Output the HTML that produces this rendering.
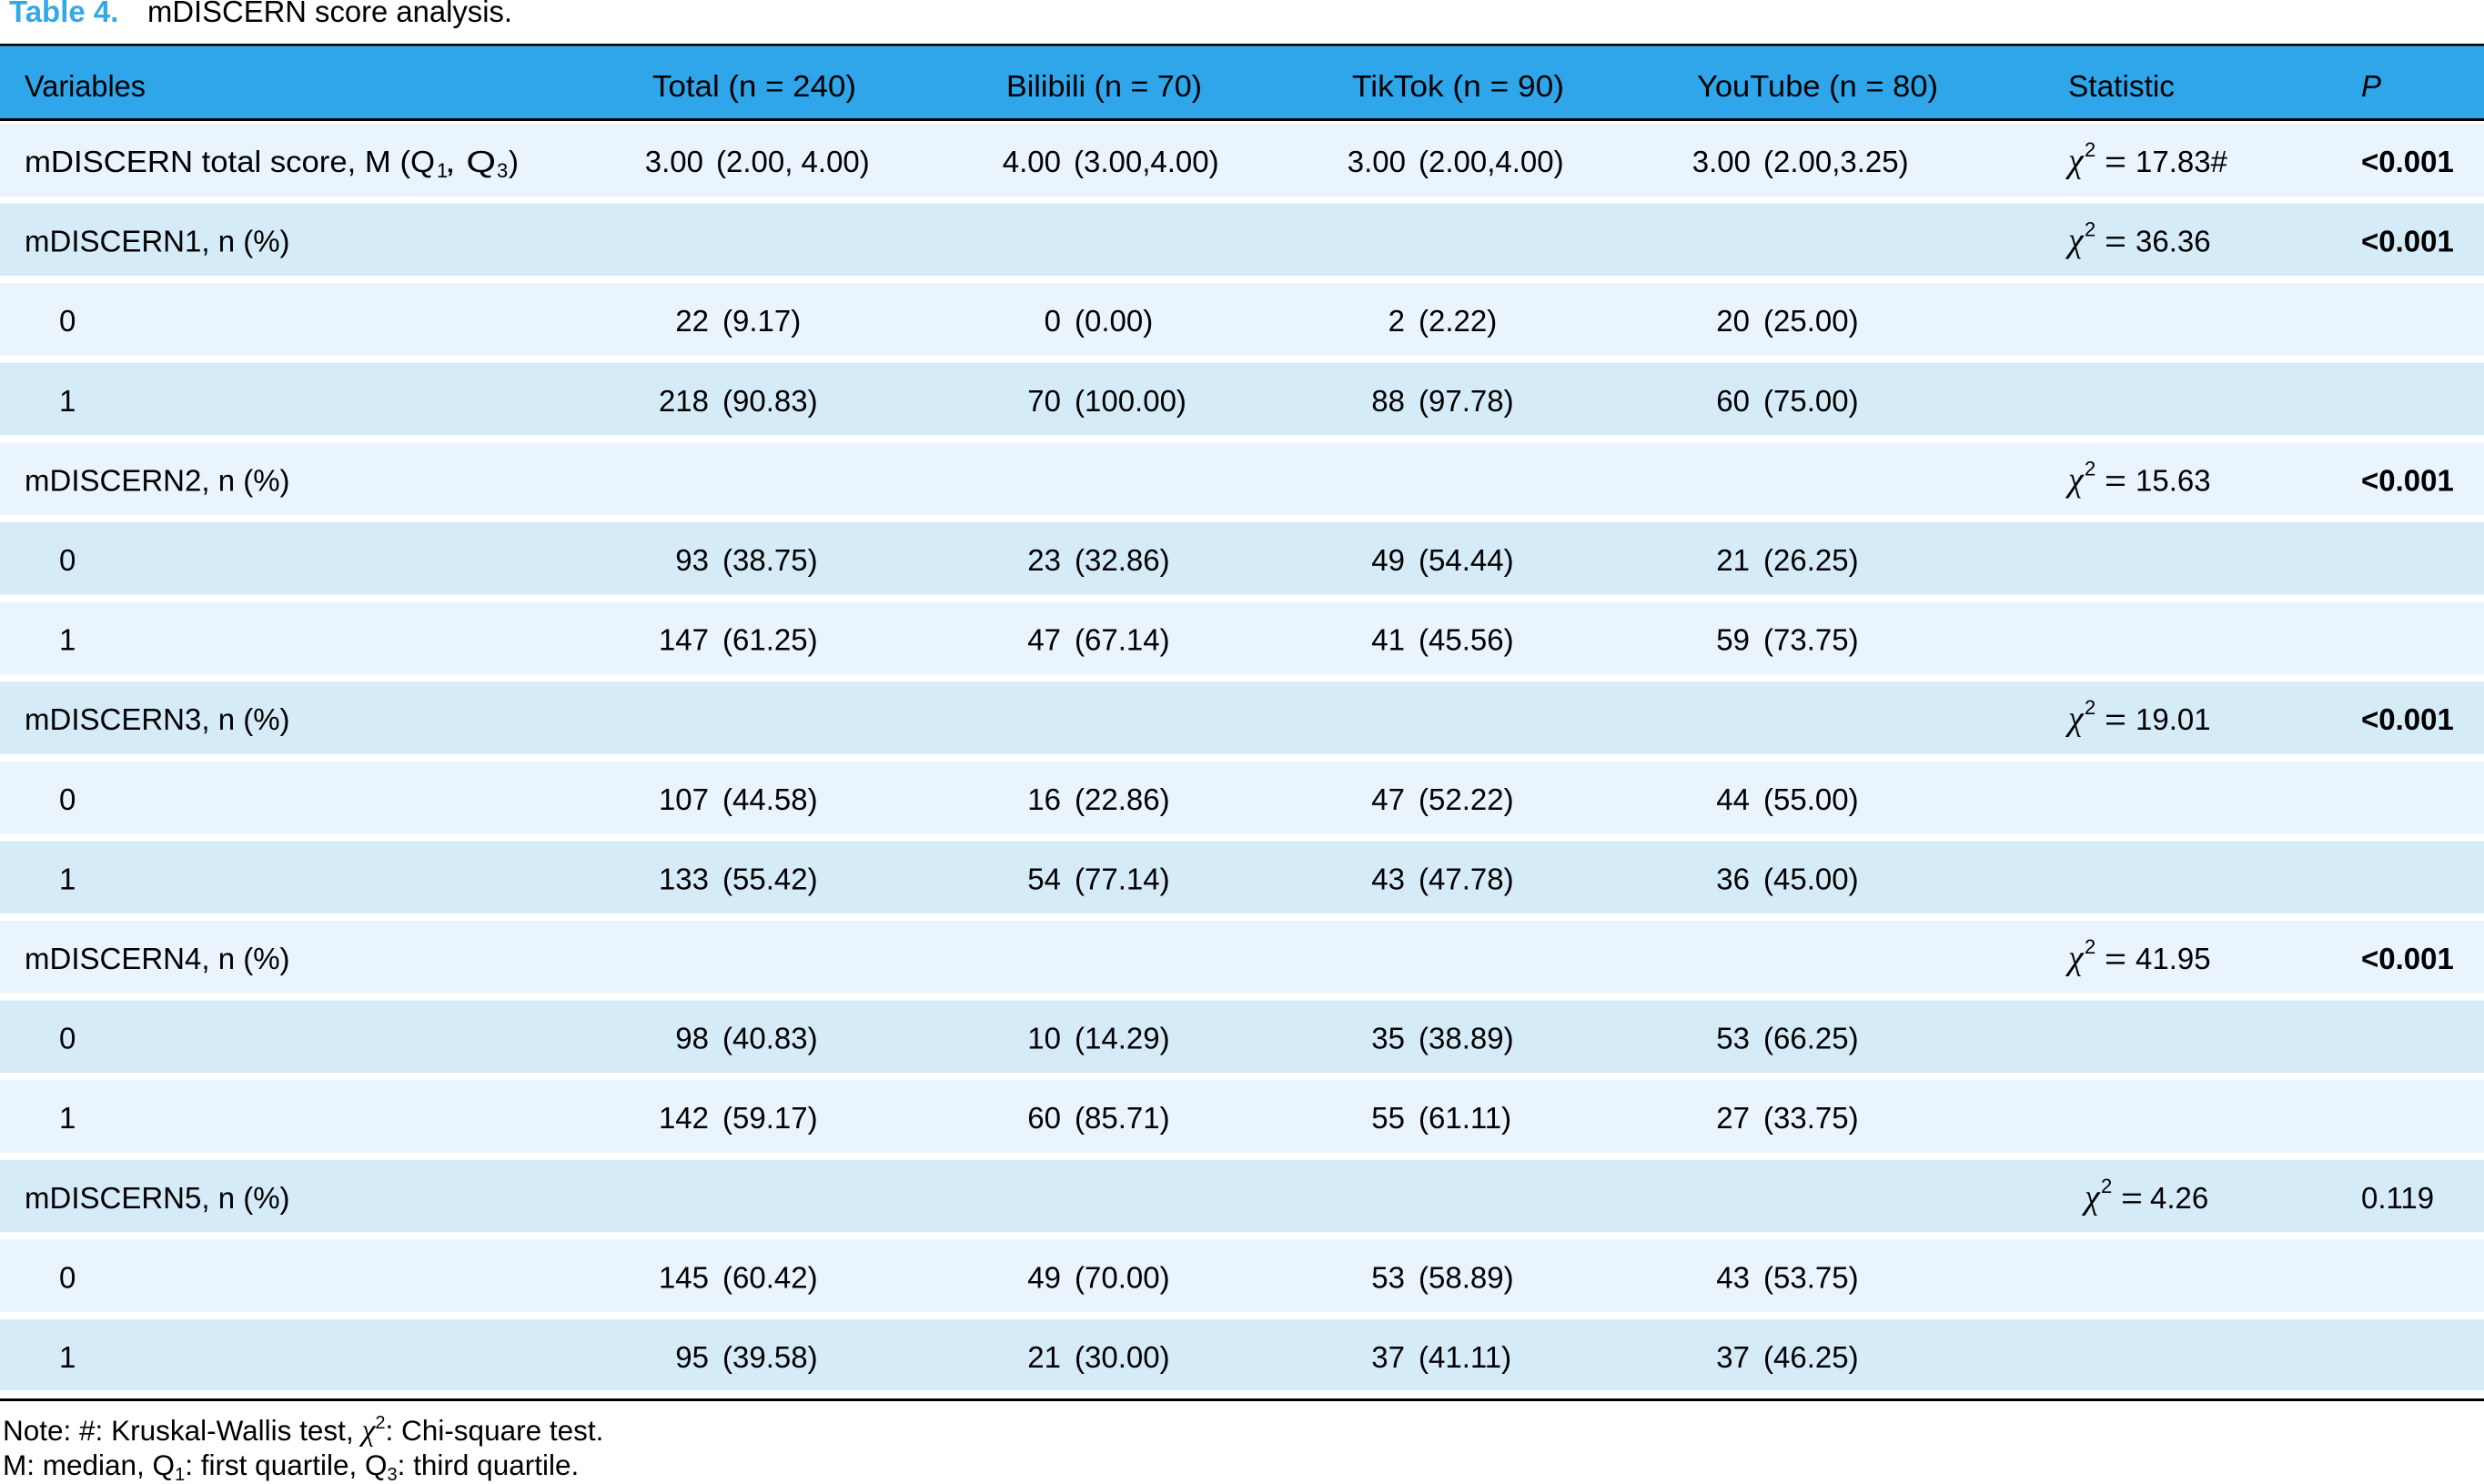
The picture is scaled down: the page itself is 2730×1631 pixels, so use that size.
<!DOCTYPE html>
<html>
<head>
<meta charset="utf-8">
<style>
html,body{margin:0;padding:0;background:#fff;}
svg{display:block;}
text{font-family:"Liberation Sans", sans-serif;fill:#000;}
.t{font-size:33px;}
.b{font-weight:bold;}
.chi{font-family:"Liberation Serif", serif;font-style:italic;font-size:38px;}
.sup{font-size:22px;}
.n{font-size:31.5px;}
</style>
</head>
<body>
<svg width="2730" height="1631" viewBox="0 0 2730 1631" xmlns="http://www.w3.org/2000/svg">
<rect x="0" y="0" width="2730" height="1631" fill="#ffffff"/>

<!-- Title -->
<text x="10" y="24" class="t b" style="fill:#35a8e6">Table 4.</text>
<text x="162" y="24" class="t" textLength="401" lengthAdjust="spacingAndGlyphs">mDISCERN score analysis.</text>

<!-- Header -->
<rect x="0" y="48" width="2730" height="2.5" fill="#000"/>
<rect x="0" y="50.5" width="2730" height="80" fill="#2ea6e9"/>
<rect x="0" y="130" width="2730" height="3" fill="#000"/>
<text x="27" y="106" class="t" textLength="133" lengthAdjust="spacingAndGlyphs">Variables</text>
<text x="717" y="106" class="t" textLength="224" lengthAdjust="spacingAndGlyphs">Total (n = 240)</text>
<text x="1106" y="106" class="t" textLength="215" lengthAdjust="spacingAndGlyphs">Bilibili (n = 70)</text>
<text x="1486" y="106" class="t" textLength="233" lengthAdjust="spacingAndGlyphs">TikTok (n = 90)</text>
<text x="1865" y="106" class="t" textLength="265" lengthAdjust="spacingAndGlyphs">YouTube (n = 80)</text>
<text x="2273" y="106" class="t" textLength="117" lengthAdjust="spacingAndGlyphs">Statistic</text>
<text x="2595" y="106" class="t" style="font-style:italic">P</text>

<!-- Row backgrounds -->
<rect x="0" y="136" width="2730" height="80" fill="#e9f4fd"/>
<rect x="0" y="223.6" width="2730" height="79.5" fill="#d6ebf8"/>
<rect x="0" y="311.2" width="2730" height="79.5" fill="#e9f4fd"/>
<rect x="0" y="398.8" width="2730" height="79.5" fill="#d6ebf8"/>
<rect x="0" y="486.4" width="2730" height="79.5" fill="#e9f4fd"/>
<rect x="0" y="574" width="2730" height="79.5" fill="#d6ebf8"/>
<rect x="0" y="661.6" width="2730" height="79.5" fill="#e9f4fd"/>
<rect x="0" y="749.2" width="2730" height="79.5" fill="#d6ebf8"/>
<rect x="0" y="836.8" width="2730" height="79.5" fill="#e9f4fd"/>
<rect x="0" y="924.4" width="2730" height="79.5" fill="#d6ebf8"/>
<rect x="0" y="1012" width="2730" height="79.5" fill="#e9f4fd"/>
<rect x="0" y="1099.6" width="2730" height="79.5" fill="#d6ebf8"/>
<rect x="0" y="1187.2" width="2730" height="79.5" fill="#e9f4fd"/>
<rect x="0" y="1274.8" width="2730" height="79.5" fill="#d6ebf8"/>
<rect x="0" y="1362.4" width="2730" height="79.5" fill="#e9f4fd"/>
<rect x="0" y="1450" width="2730" height="78" fill="#d6ebf8"/>

<!-- Bottom rule -->
<rect x="0" y="1537" width="2730" height="3" fill="#000"/>

<!-- Row 0 -->
<text x="27" y="189" class="t" textLength="451" lengthAdjust="spacingAndGlyphs">mDISCERN total score, M (Q</text>
<text x="480" y="195" class="sup">1</text>
<text x="489" y="189" class="t" textLength="56" lengthAdjust="spacingAndGlyphs">, Q</text>
<text x="546" y="195" class="sup">3</text>
<text x="559" y="189" class="t">)</text>
<text x="773" y="189" class="t" text-anchor="end">3.00</text><text x="787" y="189" class="t">(2.00, 4.00)</text>
<text x="1166" y="189" class="t" text-anchor="end">4.00</text><text x="1180" y="189" class="t">(3.00,4.00)</text>
<text x="1545" y="189" class="t" text-anchor="end">3.00</text><text x="1559" y="189" class="t">(2.00,4.00)</text>
<text x="1924" y="189" class="t" text-anchor="end">3.00</text><text x="1938" y="189" class="t">(2.00,3.25)</text>
<text x="2273" y="189" class="chi">χ</text><text x="2291" y="172" class="sup">2</text><text x="2313" y="189" class="t" textLength="24" lengthAdjust="spacingAndGlyphs">=</text><text x="2347" y="189" class="t">17.83#</text>
<text x="2595" y="189" class="t b">&lt;0.001</text>

<!-- Row 1 -->
<text x="27" y="276.6" class="t">mDISCERN1, n (%)</text>
<text x="2273" y="276.6" class="chi">χ</text><text x="2291" y="259.6" class="sup">2</text><text x="2313" y="276.6" class="t" textLength="24" lengthAdjust="spacingAndGlyphs">=</text><text x="2347" y="276.6" class="t">36.36</text>
<text x="2595" y="276.6" class="t b">&lt;0.001</text>

<!-- Row 2 -->
<text x="65" y="364.2" class="t">0</text>
<text x="779" y="364.2" class="t" text-anchor="end">22</text><text x="794" y="364.2" class="t">(9.17)</text>
<text x="1166" y="364.2" class="t" text-anchor="end">0</text><text x="1181" y="364.2" class="t">(0.00)</text>
<text x="1544" y="364.2" class="t" text-anchor="end">2</text><text x="1559" y="364.2" class="t">(2.22)</text>
<text x="1923" y="364.2" class="t" text-anchor="end">20</text><text x="1938" y="364.2" class="t">(25.00)</text>

<!-- Row 3 -->
<text x="65" y="451.8" class="t">1</text>
<text x="779" y="451.8" class="t" text-anchor="end">218</text><text x="794" y="451.8" class="t">(90.83)</text>
<text x="1166" y="451.8" class="t" text-anchor="end">70</text><text x="1181" y="451.8" class="t">(100.00)</text>
<text x="1544" y="451.8" class="t" text-anchor="end">88</text><text x="1559" y="451.8" class="t">(97.78)</text>
<text x="1923" y="451.8" class="t" text-anchor="end">60</text><text x="1938" y="451.8" class="t">(75.00)</text>

<!-- Row 4 -->
<text x="27" y="539.4" class="t">mDISCERN2, n (%)</text>
<text x="2273" y="539.4" class="chi">χ</text><text x="2291" y="522.4" class="sup">2</text><text x="2313" y="539.4" class="t" textLength="24" lengthAdjust="spacingAndGlyphs">=</text><text x="2347" y="539.4" class="t">15.63</text>
<text x="2595" y="539.4" class="t b">&lt;0.001</text>

<!-- Row 5 -->
<text x="65" y="627" class="t">0</text>
<text x="779" y="627" class="t" text-anchor="end">93</text><text x="794" y="627" class="t">(38.75)</text>
<text x="1166" y="627" class="t" text-anchor="end">23</text><text x="1181" y="627" class="t">(32.86)</text>
<text x="1544" y="627" class="t" text-anchor="end">49</text><text x="1559" y="627" class="t">(54.44)</text>
<text x="1923" y="627" class="t" text-anchor="end">21</text><text x="1938" y="627" class="t">(26.25)</text>

<!-- Row 6 -->
<text x="65" y="714.6" class="t">1</text>
<text x="779" y="714.6" class="t" text-anchor="end">147</text><text x="794" y="714.6" class="t">(61.25)</text>
<text x="1166" y="714.6" class="t" text-anchor="end">47</text><text x="1181" y="714.6" class="t">(67.14)</text>
<text x="1544" y="714.6" class="t" text-anchor="end">41</text><text x="1559" y="714.6" class="t">(45.56)</text>
<text x="1923" y="714.6" class="t" text-anchor="end">59</text><text x="1938" y="714.6" class="t">(73.75)</text>

<!-- Row 7 -->
<text x="27" y="802.2" class="t">mDISCERN3, n (%)</text>
<text x="2273" y="802.2" class="chi">χ</text><text x="2291" y="785.2" class="sup">2</text><text x="2313" y="802.2" class="t" textLength="24" lengthAdjust="spacingAndGlyphs">=</text><text x="2347" y="802.2" class="t">19.01</text>
<text x="2595" y="802.2" class="t b">&lt;0.001</text>

<!-- Row 8 -->
<text x="65" y="889.8" class="t">0</text>
<text x="779" y="889.8" class="t" text-anchor="end">107</text><text x="794" y="889.8" class="t">(44.58)</text>
<text x="1166" y="889.8" class="t" text-anchor="end">16</text><text x="1181" y="889.8" class="t">(22.86)</text>
<text x="1544" y="889.8" class="t" text-anchor="end">47</text><text x="1559" y="889.8" class="t">(52.22)</text>
<text x="1923" y="889.8" class="t" text-anchor="end">44</text><text x="1938" y="889.8" class="t">(55.00)</text>

<!-- Row 9 -->
<text x="65" y="977.4" class="t">1</text>
<text x="779" y="977.4" class="t" text-anchor="end">133</text><text x="794" y="977.4" class="t">(55.42)</text>
<text x="1166" y="977.4" class="t" text-anchor="end">54</text><text x="1181" y="977.4" class="t">(77.14)</text>
<text x="1544" y="977.4" class="t" text-anchor="end">43</text><text x="1559" y="977.4" class="t">(47.78)</text>
<text x="1923" y="977.4" class="t" text-anchor="end">36</text><text x="1938" y="977.4" class="t">(45.00)</text>

<!-- Row 10 -->
<text x="27" y="1065" class="t">mDISCERN4, n (%)</text>
<text x="2273" y="1065" class="chi">χ</text><text x="2291" y="1048" class="sup">2</text><text x="2313" y="1065" class="t" textLength="24" lengthAdjust="spacingAndGlyphs">=</text><text x="2347" y="1065" class="t">41.95</text>
<text x="2595" y="1065" class="t b">&lt;0.001</text>

<!-- Row 11 -->
<text x="65" y="1152.6" class="t">0</text>
<text x="779" y="1152.6" class="t" text-anchor="end">98</text><text x="794" y="1152.6" class="t">(40.83)</text>
<text x="1166" y="1152.6" class="t" text-anchor="end">10</text><text x="1181" y="1152.6" class="t">(14.29)</text>
<text x="1544" y="1152.6" class="t" text-anchor="end">35</text><text x="1559" y="1152.6" class="t">(38.89)</text>
<text x="1923" y="1152.6" class="t" text-anchor="end">53</text><text x="1938" y="1152.6" class="t">(66.25)</text>

<!-- Row 12 -->
<text x="65" y="1240.2" class="t">1</text>
<text x="779" y="1240.2" class="t" text-anchor="end">142</text><text x="794" y="1240.2" class="t">(59.17)</text>
<text x="1166" y="1240.2" class="t" text-anchor="end">60</text><text x="1181" y="1240.2" class="t">(85.71)</text>
<text x="1544" y="1240.2" class="t" text-anchor="end">55</text><text x="1559" y="1240.2" class="t">(61.11)</text>
<text x="1923" y="1240.2" class="t" text-anchor="end">27</text><text x="1938" y="1240.2" class="t">(33.75)</text>

<!-- Row 13 -->
<text x="27" y="1327.8" class="t">mDISCERN5, n (%)</text>
<text x="2291" y="1327.8" class="chi">χ</text><text x="2309" y="1310.8" class="sup">2</text><text x="2331" y="1327.8" class="t" textLength="24" lengthAdjust="spacingAndGlyphs">=</text><text x="2363" y="1327.8" class="t">4.26</text>
<text x="2595" y="1327.8" class="t">0.119</text>

<!-- Row 14 -->
<text x="65" y="1415.4" class="t">0</text>
<text x="779" y="1415.4" class="t" text-anchor="end">145</text><text x="794" y="1415.4" class="t">(60.42)</text>
<text x="1166" y="1415.4" class="t" text-anchor="end">49</text><text x="1181" y="1415.4" class="t">(70.00)</text>
<text x="1544" y="1415.4" class="t" text-anchor="end">53</text><text x="1559" y="1415.4" class="t">(58.89)</text>
<text x="1923" y="1415.4" class="t" text-anchor="end">43</text><text x="1938" y="1415.4" class="t">(53.75)</text>

<!-- Row 15 -->
<text x="65" y="1503" class="t">1</text>
<text x="779" y="1503" class="t" text-anchor="end">95</text><text x="794" y="1503" class="t">(39.58)</text>
<text x="1166" y="1503" class="t" text-anchor="end">21</text><text x="1181" y="1503" class="t">(30.00)</text>
<text x="1544" y="1503" class="t" text-anchor="end">37</text><text x="1559" y="1503" class="t">(41.11)</text>
<text x="1923" y="1503" class="t" text-anchor="end">37</text><text x="1938" y="1503" class="t">(46.25)</text>

<!-- Notes -->
<text x="3" y="1583" class="n">Note: #: Kruskal-Wallis test, <tspan style="font-family:'Liberation Serif',serif;font-style:italic;font-size:34px">χ</tspan><tspan dy="-13" style="font-size:20px">2</tspan><tspan dy="13">: Chi-square test.</tspan></text>
<text x="3" y="1621" class="n">M: median, Q<tspan dy="6" style="font-size:20px">1</tspan><tspan dy="-6">: first quartile, Q</tspan><tspan dy="6" style="font-size:20px">3</tspan><tspan dy="-6">: third quartile.</tspan></text>
</svg>
</body>
</html>
